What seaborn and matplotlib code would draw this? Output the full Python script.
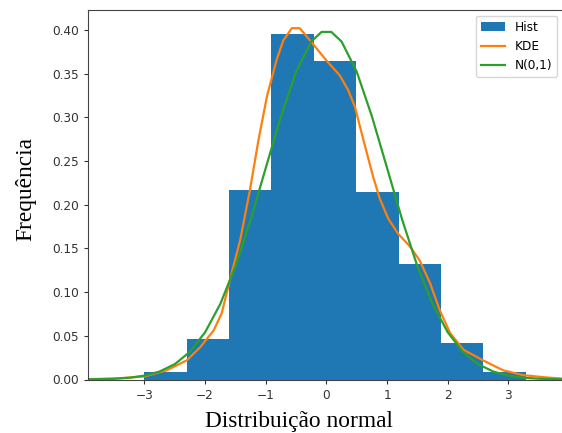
import matplotlib
matplotlib.use('Agg')  # no display in the sandbox
import matplotlib.pyplot as plt
import seaborn as sns

# Histogram (density)
bin_edges = [-3.0, -2.30, -1.605, -0.906, -0.208, 0.491, 1.19, 1.888, 2.587, 3.285]
hist_density = [0.0087, 0.0465, 0.2166, 0.395, 0.3645, 0.2147, 0.1327, 0.0412, 0.0085]

# KDE curve (orange)
kde_x = [-3.9, -3.5, -3.0, -2.63, -2.3, -2.08, -1.86, -1.725, -1.59, -1.42, -1.26,
         -1.12, -0.98, -0.82, -0.71, -0.57, -0.44, -0.27, 0.0, 0.22, 0.36, 0.47, 0.61,
         0.77, 0.88, 1.02, 1.18, 1.38, 1.54, 1.71, 1.87, 2.04, 2.26, 2.58, 2.91,
         3.24, 3.63, 3.9]
kde_y = [0.0005, 0.001, 0.0035, 0.0106, 0.022, 0.037, 0.056, 0.076, 0.114, 0.160, 0.217,
         0.274, 0.324, 0.366, 0.388, 0.402, 0.402, 0.388, 0.365, 0.348, 0.331, 0.312, 0.274,
         0.232, 0.207, 0.184, 0.167, 0.152, 0.136, 0.110, 0.079, 0.053, 0.034, 0.022, 0.0106,
         0.005, 0.0023, 0.001]

# N(0,1) curve (green)
norm_x = [-4.0, -3.75, -3.5, -3.25, -3.0, -2.75, -2.5, -2.25, -2.0, -1.75, -1.5, -1.25,
          -1.0, -0.75, -0.5, -0.25, -0.08, 0.08, 0.25, 0.5, 0.75, 1.0, 1.25, 1.5, 1.75,
          2.0, 2.25, 2.5, 2.75, 3.0, 3.25, 3.5, 3.75, 4.0]
norm_y = [0.0001, 0.0004, 0.0009, 0.0020, 0.0044, 0.0091, 0.0175, 0.0317, 0.0540, 0.0863,
          0.1295, 0.1826, 0.2420, 0.3011, 0.3521, 0.3867, 0.3977, 0.3977, 0.3867, 0.3521,
          0.3011, 0.2420, 0.1826, 0.1295, 0.0863, 0.0540, 0.0317, 0.0175, 0.0091, 0.0044,
          0.0020, 0.0009, 0.0004, 0.0001]

x_ticks = [-3, -2, -1, 0, 1, 2, 3]
y_ticks = [0.0, 0.05, 0.10, 0.15, 0.20, 0.25, 0.30, 0.35, 0.40]

bin_centers = [(a + b) / 2 for a, b in zip(bin_edges[:-1], bin_edges[1:])]

fig = plt.figure(figsize=(5.62, 4.33), dpi=100)
ax = fig.add_axes([88 / 562, 53.5 / 433, 475 / 562, 369.5 / 433])

sns.histplot(x=bin_centers, weights=hist_density, bins=bin_edges, stat='count',
             color='#1f77b4', alpha=1, linewidth=0, label='Hist', ax=ax)
sns.lineplot(x=kde_x, y=kde_y, sort=False, estimator=None, color='#ff7f0e',
             linewidth=1.6, label='KDE', ax=ax)
sns.lineplot(x=norm_x, y=norm_y, sort=False, estimator=None, color='#2ca02c',
             linewidth=1.6, label='N(0,1)', ax=ax)

ax.set_xlim(-3.93, 3.90)
ax.set_ylim(0, 0.4228)
ax.set_xticks(x_ticks)
ax.set_yticks(y_ticks)
ax.set_yticklabels([f'{v:.2f}' for v in y_ticks])
ax.tick_params(labelsize=8.7, colors='#333333', length=3)
for sp in ax.spines.values():
    sp.set_color('#444444')

# title sits mostly above the top edge, as in the cropped original
ax.set_title('Histogram plot and kernel density', fontsize=10.4, pad=10)

ax.set_xlabel('Distribuição normal', fontsize=16.8, family='Liberation Serif')
ax.set_ylabel('Frequência', fontsize=16.8, family='Liberation Serif')
ax.xaxis.label.set_va('baseline')
ax.xaxis.set_label_coords((299 - 88) / 475, (379.5 - 426.7) / 369.5)
ax.yaxis.label.set_va('center')
ax.yaxis.set_label_coords((26 - 88) / 475, (379.5 - 189) / 369.5)

handles, labels = ax.get_legend_handles_labels()
order = [labels.index(n) for n in ['Hist', 'KDE', 'N(0,1)']]
ax.legend([handles[i] for i in order], [labels[i] for i in order],
          loc='upper right', fontsize=8.7)

fig.savefig('out.png', dpi=100)
plt.close(fig)
